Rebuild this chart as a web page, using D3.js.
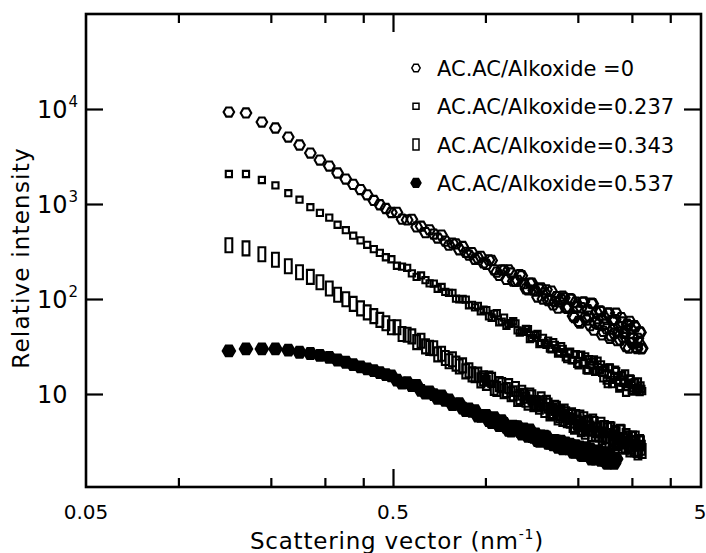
<!DOCTYPE html>
<html>
<head>
<meta charset="utf-8">
<script src="https://cdn.jsdelivr.net/npm/d3@7"></script>
<style>
	body { margin: 0; background: #fff; }
	svg text { font-family: "DejaVu Sans", sans-serif; fill: #000; }
</style>
</head>
<body>
<svg id="graph" width="706" height="553"></svg>
<script>

// scattering vector q (nm^-1), shared by all four curves
const SCATTERING_VECTOR = [0.146, 0.166, 0.187, 0.207, 0.228, 0.248, 0.269, 0.289, 0.310, 0.330, 0.351, 0.371, 0.392, 0.412, 0.433, 0.453, 0.474, 0.494, 0.515, 0.535, 0.556, 0.576, 0.597, 0.617, 0.638, 0.658, 0.679, 0.699, 0.720, 0.740, 0.761, 0.781, 0.802, 0.822, 0.843, 0.863, 0.884, 0.904, 0.925, 0.945, 0.966, 0.986,
	1.007, 1.027, 1.048, 1.068, 1.089, 1.109, 1.130, 1.150, 1.171, 1.191, 1.212, 1.232, 1.253, 1.273, 1.294, 1.314, 1.335, 1.355, 1.376, 1.396, 1.417, 1.437, 1.458, 1.478, 1.499, 1.519, 1.540, 1.560, 1.581, 1.601, 1.622, 1.642, 1.663, 1.683, 1.704, 1.724, 1.745, 1.765, 1.786, 1.806, 1.827, 1.847, 1.868, 1.888, 1.909, 1.929, 1.950, 1.970, 1.991, 2.011, 2.032, 2.052, 2.073, 2.093, 2.114, 2.134, 2.155, 2.175, 2.196, 2.216, 2.237, 2.257, 2.278, 2.298, 2.319, 2.339, 2.360, 2.380, 2.401, 2.421, 2.442, 2.462, 2.483, 2.503, 2.524, 2.544, 2.565, 2.585, 2.606, 2.626, 2.647, 2.667, 2.688, 2.708, 2.729, 2.749, 2.770, 2.790, 2.811, 2.831, 2.852, 2.872, 2.893, 2.913, 2.934, 2.954, 2.975, 2.995, 3.016, 3.036, 3.057, 3.077, 3.098, 3.118, 3.139, 3.159, 3.180, 3.200, 3.221, 3.241];

// relative intensity, AC.AC/Alkoxide = 0
const INTENSITY_0 = [9290, 9080, 7290, 6310, 5070, 4180, 3440, 2900, 2510, 2120, 1830, 1610, 1420, 1250, 1090, 982, 897, 814, 816, 693, 680, 689, 574, 584, 500, 535, 483, 438, 471, 407, 369, 388, 380, 330, 357, 310, 290, 308, 262, 271, 281,
	240, 231, 258, 255, 203, 192, 177, 203, 201, 161, 203, 188, 154, 153, 157, 181, 176, 145, 128, 125, 147, 147, 124, 121, 105, 127, 131, 100, 116, 125, 96.2, 99.1, 121, 86.7, 94.0, 106, 80.2, 93.5, 98.8, 107, 103, 81.1, 79.8, 82.4, 101, 99.1, 66.2, 63.7, 92.5, 82.8, 58.1, 55.7, 80.9, 92.3, 93.5, 64.0, 60.1, 77.3, 66.1, 52.4, 90.3, 89.3, 47.0, 56.1, 72.4, 61.9, 54.2, 75.0, 74.0, 41.9, 45.6, 63.2, 54.2, 48.5, 70.6, 71.6, 38.5, 41.0, 59.7, 48.5, 43.6, 60.5, 70.9, 36.4, 44.9, 51.2, 37.0, 63.8, 57.3, 39.4, 45.2, 43.6, 31.5, 54.3, 52.5, 30.5, 58.1, 48.4, 35.0, 34.7, 38.7, 52.5, 50.7, 31.0, 30.0, 38.6, 34.8, 45.0, 44.5, 29.9, 30.4];

// AC.AC/Alkoxide = 0.237
const INTENSITY_237 = [2070, 2070, 1790, 1570, 1300, 1110, 925, 806, 719, 605, 530, 464, 414, 372, 335, 306, 275, 262, 224, 219, 213, 186, 171, 177, 158, 146, 145, 128, 134, 119, 116, 116, 101, 99.3, 100, 98.6, 85.9, 86.9, 81.6, 84.6, 74.0,
	77.1, 76.4, 65.6, 63.5, 69.7, 71.1, 56.9, 57.9, 63.7, 52.2, 54.7, 55.8, 58.5, 55.5, 46.7, 44.3, 45.3, 45.2, 48.4, 48.3, 37.9, 38.8, 41.8, 41.8, 42.8, 33.6, 34.4, 39.0, 34.6, 33.0, 36.5, 30.1, 29.6, 35.2, 32.9, 30.0, 26.7, 27.5, 31.9, 29.9, 26.6, 24.3, 23.3, 27.1, 27.9, 22.6, 22.8, 26.0, 26.2, 20.8, 20.0, 25.7, 25.9, 21.0, 21.3, 24.9, 17.9, 17.6, 23.3, 20.3, 20.1, 21.9, 23.2, 17.1, 17.3, 22.4, 17.8, 17.9, 20.5, 16.7, 14.6, 18.8, 18.7, 13.8, 12.7, 18.9, 19.1, 15.6, 12.7, 14.1, 15.4, 18.0, 17.4, 15.2, 13.3, 11.4, 11.9, 15.7, 15.8, 13.2, 13.1, 16.5, 10.3, 11.8, 13.2, 12.7, 14.6, 14.4, 10.9, 10.6, 11.5, 13.2, 13.4, 11.2, 10.8, 13.6, 11.4, 10.5, 12.3, 11.3, 10.7];

// AC.AC/Alkoxide = 0.343
const INTENSITY_343 = [368, 341, 296, 259, 221, 191, 171, 150, 129, 111, 99.3, 88.8, 79.6, 72.4, 66.1, 60.3, 55.6, 50.5, 50.5, 42.8, 42.0, 40.4, 35.2, 36.4, 31.7, 30.6, 30.3, 26.1, 26.5, 23.9, 22.1, 23.2, 20.9, 19.5, 20.0, 17.3, 17.8, 16.1, 15.8, 16.0, 13.9,
	14.6, 13.1, 14.5, 14.1, 11.6, 11.3, 12.7, 12.4, 10.7, 11.0, 12.1, 9.95, 10.2, 11.3, 8.86, 9.30, 10.3, 9.57, 8.71, 8.12, 9.64, 9.21, 7.81, 8.04, 7.88, 7.36, 8.77, 8.00, 6.79, 8.07, 7.55, 6.24, 6.42, 6.61, 7.14, 7.00, 5.66, 5.97, 6.29, 5.47, 6.53, 6.10, 5.31, 5.74, 5.25, 5.97, 4.72, 4.54, 5.71, 5.00, 4.82, 5.64, 4.26, 4.42, 5.43, 4.01, 4.36, 4.99, 4.82, 4.32, 3.79, 5.12, 4.83, 3.84, 4.18, 4.14, 3.72, 4.36, 4.75, 3.51, 3.74, 4.39, 3.25, 3.62, 4.15, 3.15, 4.27, 4.23, 3.37, 3.50, 3.16, 3.88, 3.76, 3.06, 3.27, 3.16, 3.99, 3.95, 2.86, 3.28, 3.18, 2.79, 3.60, 3.41, 2.86, 2.97, 2.61, 2.78, 3.35, 3.40, 2.99, 2.62, 3.40, 3.06, 2.57, 2.42, 2.65, 3.12, 3.02, 2.72, 2.51];

// AC.AC/Alkoxide = 0.537
const INTENSITY_537 = [28.4, 29.8, 29.8, 29.8, 29.0, 27.5, 26.7, 25.5, 24.3, 22.8, 21.6, 20.4, 19.3, 18.4, 17.6, 16.8, 16.0, 15.5, 14.0, 13.0, 13.2, 12.3, 12.3, 10.9, 10.2, 10.5, 9.86, 9.03, 9.57, 8.59, 8.67, 7.75, 7.83, 7.93, 7.11, 6.70, 6.95, 6.56, 6.67, 5.86, 5.82,
	5.95, 5.94, 5.26, 5.00, 5.65, 5.00, 4.64, 5.25, 4.89, 4.45, 4.15, 4.06, 4.59, 4.51, 4.54, 4.04, 3.79, 4.29, 3.83, 3.59, 4.18, 3.56, 3.50, 3.79, 3.23, 3.18, 3.61, 3.47, 3.60, 3.54, 3.02, 3.05, 3.10, 2.91, 3.25, 3.21, 2.74, 2.91, 3.18, 2.65, 2.75, 3.06, 2.75, 2.65, 2.97, 2.86, 2.45, 2.43, 2.86, 2.57, 2.49, 2.78, 2.27, 2.25, 2.64, 2.55, 2.73, 2.29, 2.27, 2.66, 2.07, 2.27, 2.42, 2.07, 2.21, 2.42, 2.52, 2.11, 2.00, 2.41, 2.07, 2.00, 2.30, 1.88, 1.87, 2.25, 2.28, 2.05, 1.99, 1.92, 1.86, 2.13, 2.07];

const LEGEND_LABELS = [
	"AC.AC/Alkoxide =0",
	"AC.AC/Alkoxide=0.237",
	"AC.AC/Alkoxide=0.343",
	"AC.AC/Alkoxide=0.537"
];

const X_LABEL_TICKS = [0.05, 0.5, 5];
const X_MINOR_TICKS = [0.1, 0.2, 0.3, 0.4, 1, 2, 3, 4];
const X_MAJOR_TICKS = [0.5];
const Y_TICKS = [10, 100, 1000, 10000];

const FRAME = {left: 86, right: 701, top: 14, bottom: 487};

/*
Marker paths, drawn around 0,0.
*/

function hexagonPath(r){
	let pts = d3.range(6).map(i => [r * Math.cos(i * Math.PI / 3), r * Math.sin(i * Math.PI / 3)]);
	return "M" + pts.map(p => p[0].toFixed(2) + "," + p[1].toFixed(2)).join("L") + "Z";
}

function rectPath(w, h){
	return "M" + (-w / 2) + "," + (-h / 2) + "h" + w + "v" + h + "h" + (-w) + "Z";
}

const SERIES = [
	{values: INTENSITY_0, marker: hexagonPath(5.3), legendMarker: hexagonPath(4.2), fill: "none"},
	{values: INTENSITY_237, marker: rectPath(6.2, 6.2), legendMarker: rectPath(6, 6), fill: "none"},
	{values: INTENSITY_343, marker: rectPath(6.8, 14), legendMarker: rectPath(6, 11), fill: "none"},
	{values: INTENSITY_537, marker: hexagonPath(6.2), legendMarker: hexagonPath(5), fill: "#000"}
];

let svg = d3.select("#graph");

let x = d3.scaleLog().domain([0.05, 5]).range([FRAME.left, 700]);
let y = d3.scaleLog().domain([Math.pow(10, 0.0211), 1e5]).range([FRAME.bottom, FRAME.top]);

/*
Points for each curve.
*/

SERIES.forEach(s => {
	let pts = s.values.map((v, i) => [SCATTERING_VECTOR[i], v]);
	svg.append("g")
		.selectAll("path")
		.data(pts)
		.join("path")
		.attr("d", s.marker)
		.attr("transform", d => "translate(" + x(d[0]) + "," + y(d[1]) + ")")
		.attr("fill", s.fill)
		.attr("stroke", "#000")
		.attr("stroke-width", 2.1);
});

/*
Ticks point inward on all four sides.
*/

function tickAxis(axis, transform){
	let g = svg.append("g").attr("transform", transform).call(axis);
	g.select(".domain").remove();
	g.selectAll(".tick line").attr("stroke", "#000").attr("stroke-width", 2.2);
	g.selectAll(".tick text").remove();
}

tickAxis(d3.axisBottom(x).tickValues(X_MINOR_TICKS).tickSize(-9), "translate(0," + FRAME.bottom + ")");
tickAxis(d3.axisBottom(x).tickValues(X_MAJOR_TICKS).tickSize(-18), "translate(0," + FRAME.bottom + ")");
tickAxis(d3.axisTop(x).tickValues(X_MINOR_TICKS).tickSize(-9), "translate(0," + FRAME.top + ")");
tickAxis(d3.axisTop(x).tickValues(X_MAJOR_TICKS).tickSize(-18), "translate(0," + FRAME.top + ")");
tickAxis(d3.axisLeft(y).tickValues(Y_TICKS).tickSize(-17), "translate(" + FRAME.left + ",0)");
tickAxis(d3.axisRight(y).tickValues(Y_TICKS).tickSize(-17), "translate(" + FRAME.right + ",0)");

svg.append("rect")
	.attr("x", FRAME.left)
	.attr("y", FRAME.top)
	.attr("width", FRAME.right - FRAME.left)
	.attr("height", FRAME.bottom - FRAME.top)
	.attr("fill", "none")
	.attr("stroke", "#000")
	.attr("stroke-width", 2.6);

// x tick labels
svg.append("g")
	.selectAll("text")
	.data(X_LABEL_TICKS)
	.join("text")
	.attr("x", d => x(d))
	.attr("y", 519)
	.attr("text-anchor", "middle")
	.attr("font-size", 20)
	.text(d => d);

// y tick labels, 10 then powers of ten
let yLabels = svg.append("g")
	.selectAll("text")
	.data(Y_TICKS)
	.join("text")
	.attr("x", 37)
	.attr("y", d => y(d) + 9)
	.attr("font-size", 24);
yLabels.append("tspan").text("10");
yLabels.filter(d => d > 10)
	.append("tspan")
	.attr("font-size", 15)
	.attr("dx", 1)
	.attr("dy", -11)
	.text(d => Math.round(Math.log10(d)));

// axis titles
let xTitle = svg.append("text")
	.attr("x", 397)
	.attr("y", 549)
	.attr("text-anchor", "middle")
	.attr("font-size", 23)
	.attr("letter-spacing", 0.8);
xTitle.append("tspan").text("Scattering vector  (nm");
xTitle.append("tspan").attr("font-size", 14).attr("dy", -10).text("-1");
xTitle.append("tspan").attr("dy", 10).text(")");

svg.append("text")
	.attr("transform", "translate(29,258) rotate(-90)")
	.attr("text-anchor", "middle")
	.attr("font-size", 23)
	.attr("letter-spacing", 1.2)
	.text("Relative intensity");

/*
Legend, marker then label on each row.
*/

const LEGEND_TOP = 68;
const LEGEND_STEP = 38.3;

let legend = svg.append("g");
SERIES.forEach((s, i) => {
	let cy = LEGEND_TOP + LEGEND_STEP * i;
	legend.append("path")
		.attr("d", s.legendMarker)
		.attr("transform", "translate(416," + cy + ")")
		.attr("fill", s.fill)
		.attr("stroke", "#000")
		.attr("stroke-width", 1.5);
	legend.append("text")
		.attr("x", 437)
		.attr("y", cy + 8)
		.attr("font-size", 21)
		.text(LEGEND_LABELS[i]);
});

</script>
</body>
</html>
